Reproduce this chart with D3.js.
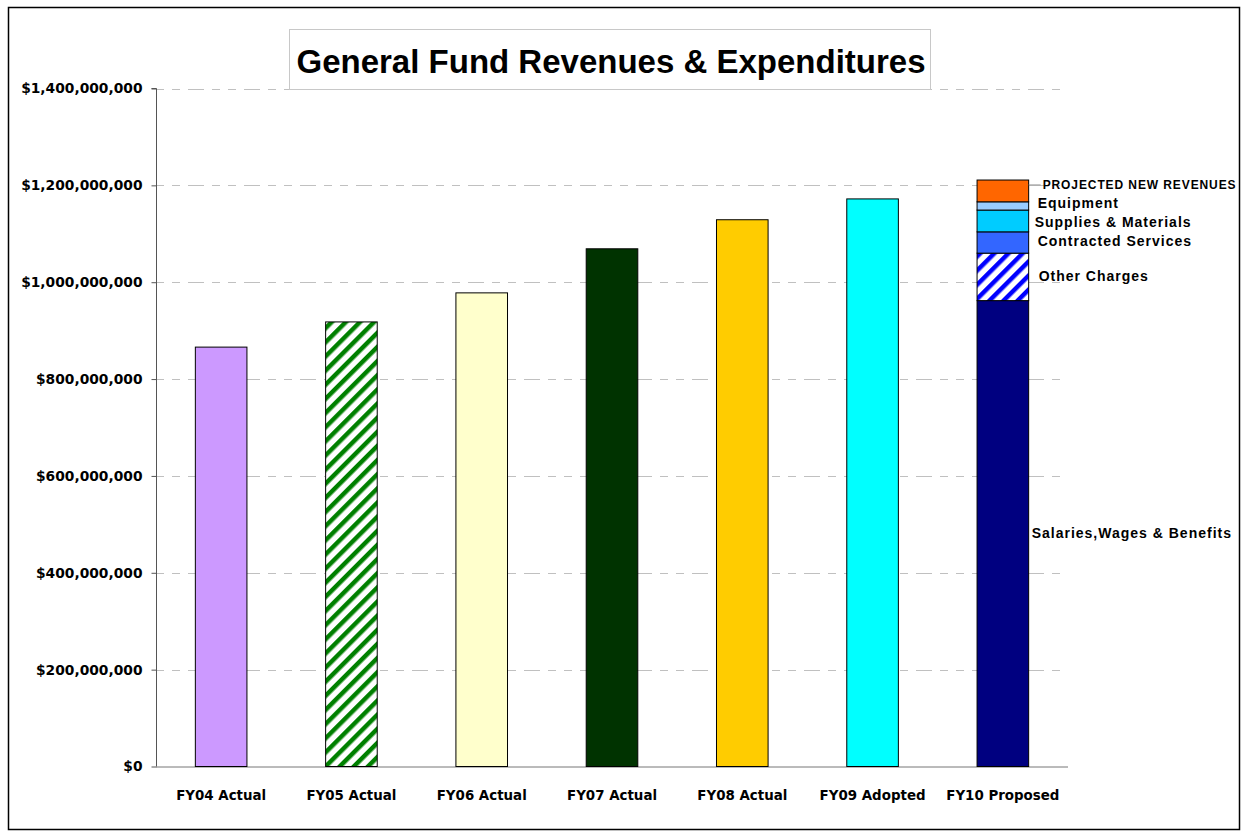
<!DOCTYPE html>
<html>
<head>
<meta charset="utf-8">
<script src="https://cdn.jsdelivr.net/npm/d3@7"></script>
<style>
  html, body { margin: 0; padding: 0; background: #fff; }
  svg { display: block; }
</style>
</head>
<body>
<svg id="chart" width="1245" height="832"></svg>
<script>
// ---- data ----
const title = "General Fund Revenues & Expenditures";
const categories = ["FY04 Actual", "FY05 Actual", "FY06 Actual", "FY07 Actual", "FY08 Actual", "FY09 Adopted", "FY10 Proposed"];
const totals = [866e6, 918e6, 978e6, 1069e6, 1129e6, 1172e6, null];
const barFills = ["#CC99FF", "url(#hatchGreen)", "#FFFFCC", "#003300", "#FFCC00", "#00FFFF", null];
const fy10Segments = ["Salaries,Wages & Benefits", "Other Charges", "Contracted Services", "Supplies & Materials", "Equipment", "PROJECTED NEW REVENUES"];
const fy10Values = [962e6, 98e6, 44e6, 45e6, 17e6, 45e6];
const fy10Fills = ["#000080", "url(#hatchBlue)", "#3366FF", "#00CCFF", "#99CCFF", "#FF6600"];
const yTicks = [0, 200e6, 400e6, 600e6, 800e6, 1000e6, 1200e6, 1400e6];

(function () {
// ---- layout ----
const svg = d3.select("#chart");
const pLeft = 156, pRight = 1068, pTop = 88.5, pBottom = 766.5;

const defs = svg.append("defs");
function hatch(id, color) {
  const p = defs.append("pattern").attr("id", id)
    .attr("patternUnits", "userSpaceOnUse")
    .attr("width", 10).attr("height", 10)
    .attr("patternTransform", "rotate(45)");
  p.append("rect").attr("width", 10).attr("height", 10).attr("fill", "#fff");
  p.append("rect").attr("width", 4.5).attr("height", 10).attr("fill", color);
}
hatch("hatchGreen", "#008000");
hatch("hatchBlue", "#0000FF");

// outer border
svg.append("rect").attr("x", 8.5).attr("y", 7.5).attr("width", 1231).attr("height", 822)
  .attr("fill", "#fff").attr("stroke", "#000").attr("stroke-width", 1.5);

const x = d3.scaleBand().domain(categories).range([pLeft, pRight]).paddingInner(0.604).paddingOuter(0.302);
const y = d3.scaleLinear().domain([0, 1400e6]).range([pBottom, pTop]);

// gridlines
svg.append("g").selectAll("line").data(yTicks.filter(d => d > 0)).join("line")
  .attr("x1", pLeft).attr("x2", pRight)
  .attr("y1", d => Math.round(y(d)) + 0.5).attr("y2", d => Math.round(y(d)) + 0.5)
  .attr("stroke", "#c0c0c0").attr("stroke-width", 1)
  .attr("stroke-dasharray", "8,8,8,8,16,8");

// y axis
const yAxis = d3.axisLeft(y).tickValues(yTicks).tickSize(5).tickPadding(9)
  .tickFormat(d => "$" + d3.format(",")(d));
const gy = svg.append("g").attr("transform", `translate(${pLeft + 0.5},0)`).call(yAxis);
gy.select(".domain").attr("stroke", "#555").attr("d", `M-5,${pTop}H0V${pBottom}`);
gy.selectAll(".tick line").attr("stroke", "#555");
gy.selectAll(".tick text").attr("font-family", "DejaVu Sans, sans-serif").attr("font-weight", "bold")
  .attr("font-size", 13.8).attr("fill", "#000");

// x axis
const xAxis = d3.axisBottom(x).tickSize(0).tickPadding(23);
const gx = svg.append("g").attr("transform", `translate(0,${pBottom + 0.5})`).call(xAxis);
gx.select(".domain").attr("stroke", "#777").attr("d", `M${pLeft},0H${pRight}`);
gx.selectAll(".tick text").attr("font-family", "DejaVu Sans, sans-serif").attr("font-weight", "bold")
  .attr("font-size", 13.4).attr("fill", "#000");

// single bars
const singles = categories.map((c, i) => ({ c, v: totals[i], f: barFills[i] })).filter(d => d.v != null);
svg.append("g").selectAll("rect").data(singles).join("rect")
  .attr("x", d => x(d.c)).attr("width", x.bandwidth())
  .attr("y", d => y(d.v)).attr("height", d => y(0) - y(d.v))
  .attr("fill", d => d.f).attr("stroke", "#000").attr("stroke-width", 1);

// stacked FY10
const fy10 = categories[6];
let cum = 0;
const segs = fy10Values.map((v, i) => { const s = { name: fy10Segments[i], y0: cum, y1: cum + v, f: fy10Fills[i] }; cum += v; return s; });
svg.append("g").selectAll("rect").data(segs).join("rect")
  .attr("x", x(fy10)).attr("width", x.bandwidth())
  .attr("y", d => y(d.y1)).attr("height", d => y(d.y0) - y(d.y1))
  .attr("fill", d => d.f).attr("stroke", "#000").attr("stroke-width", 1);

// segment labels
const barRight = x(fy10) + x.bandwidth();
const nudgeX = [3, 10, 9, 6, 9, 14];
const nudgeY = [0, -1, -1, 1, -3, -6];
const labels = svg.append("g").attr("font-family", "Liberation Sans, Arial, sans-serif").attr("font-weight", "bold");
segs.forEach((s, i) => {
  const cy = (y(s.y0) + y(s.y1)) / 2 + nudgeY[i];
  labels.append("text").attr("x", barRight + nudgeX[i]).attr("y", cy).attr("dy", "0.35em")
    .attr("font-size", i === 5 ? 12 : 14).attr("letter-spacing", i === 5 ? 0.9 : 1)
    .attr("fill", "#000").text(s.name);
});
// leader line for projected revenues
const pr = segs[5];
const prY = (y(pr.y0) + y(pr.y1)) / 2 - 6;
svg.append("line").attr("x1", barRight).attr("x2", barRight + 12).attr("y1", prY).attr("y2", prY)
  .attr("stroke", "#999").attr("stroke-width", 1);

// title box
svg.append("rect").attr("x", 289.5).attr("y", 29.5).attr("width", 641).attr("height", 60)
  .attr("fill", "#fff").attr("stroke", "#c8c8c8").attr("stroke-width", 1);
svg.append("text").attr("x", 611).attr("y", 61).attr("dy", "0.35em").attr("text-anchor", "middle")
  .attr("font-family", "Liberation Sans, Arial, sans-serif").attr("font-weight", "bold").attr("font-size", 33)
  .attr("fill", "#000").text(title);
})();
</script>
</body>
</html>
